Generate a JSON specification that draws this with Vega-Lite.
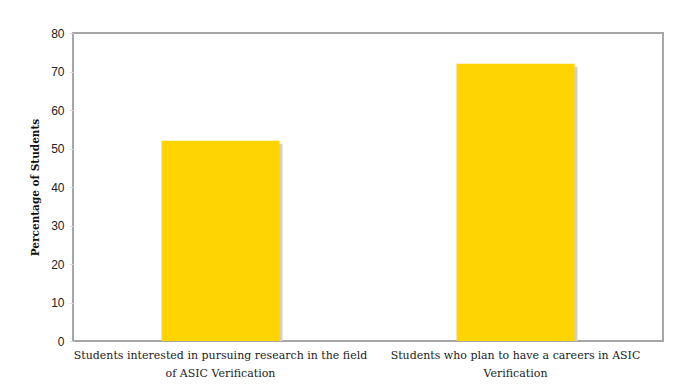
{
  "$schema": "https://vega.github.io/schema/vega-lite/v6.json",
  "autosize": {"type": "none"},
  "width": 590,
  "height": 308,
  "padding": {"left": 73, "top": 33, "right": 13, "bottom": 46},
  "background": "white",
  "config": {
    "view": {"stroke": "#a6a6a6", "strokeWidth": 2},
    "axis": {"grid": false, "domain": false}
  },
  "data": {
    "values": [
      {"group": "Students interested in pursuing research in the field of ASIC Verification", "pct": 52},
      {"group": "Students who plan to have a careers in ASIC Verification", "pct": 72}
    ]
  },
  "encoding": {
    "x": {
      "field": "group", "type": "nominal", "sort": null,
      "scale": {"paddingInner": 0.6, "paddingOuter": 0.3},
      "axis": {
        "title": null, "labelAngle": 0, "ticks": false, "labelPadding": 8,
        "labelFont": "DejaVu Serif", "labelFontSize": 11, "labelColor": "#222",
        "labelLimit": 400, "labelLineHeight": 18,
        "labelExpr": "indexof(datum.label, 'research') >= 0 ? ['Students interested in pursuing research in the field', 'of ASIC Verification'] : ['Students who plan to have a careers in ASIC', 'Verification']"
      }
    },
    "y": {
      "field": "pct", "type": "quantitative",
      "scale": {"domain": [0, 80], "nice": false},
      "axis": {
        "values": [0, 10, 20, 30, 40, 50, 60, 70, 80],
        "title": "Percentage of Students",
        "titleFont": "DejaVu Serif", "titleFontSize": 10.5, "titleFontWeight": "bold", "titleColor": "#111",
        "titlePadding": 10,
        "labelFont": "Liberation Sans", "labelFontSize": 12, "labelColor": "#222",
        "tickColor": "#dddddd", "tickSize": 4, "labelPadding": 5
      }
    }
  },
  "layer": [
    {"mark": {"type": "bar", "color": "#cfcfcf", "xOffset": 3, "yOffset": 3, "clip": true}},
    {"mark": {"type": "bar", "color": "#FFD400"}}
  ]
}
